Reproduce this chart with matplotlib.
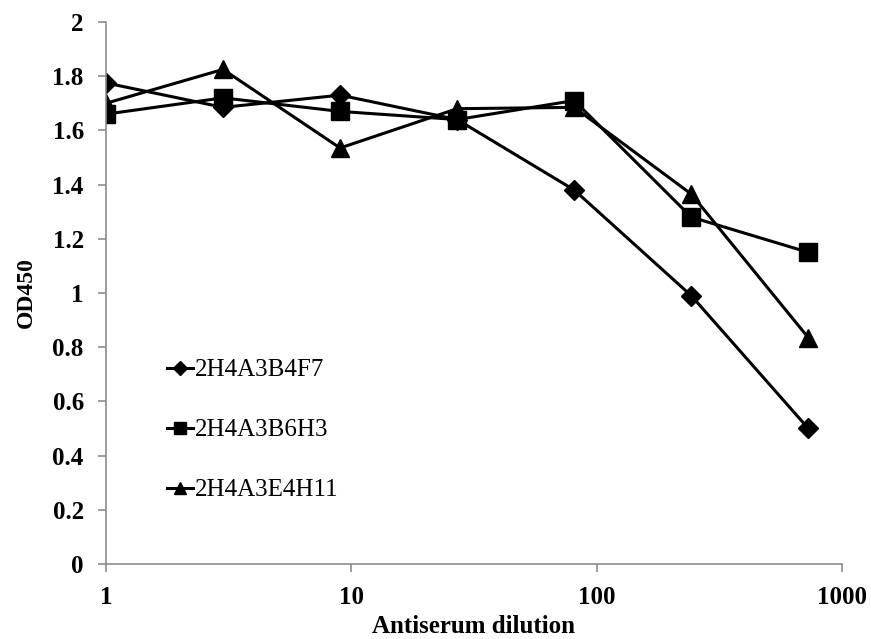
import numpy as np
import matplotlib.pyplot as plt
from matplotlib.ticker import FixedLocator, FuncFormatter, NullLocator

# -----------------------
# Data
# -----------------------
dilution = [1, 3, 9, 27, 81, 243, 729]
b4f7 = [1.775, 1.685, 1.73, 1.64, 1.38, 0.99, 0.50]
b6h3 = [1.66, 1.72, 1.67, 1.64, 1.71, 1.28, 1.15]
e4h11 = [1.70, 1.825, 1.535, 1.68, 1.685, 1.365, 0.835]
labels = ['2H4A3B4F7', '2H4A3B6H3', '2H4A3E4H11']
y_ticks = [0, 0.2, 0.4, 0.6, 0.8, 1, 1.2, 1.4, 1.6, 1.8, 2]
x_ticks = [1, 10, 100, 1000]

plt.rcParams['font.family'] = ['Liberation Serif', 'DejaVu Serif']

fig = plt.figure(figsize=(8.71, 6.39), dpi=100)
ax = fig.add_axes([0.1217, 0.1174, 0.845, 0.8482])

ax.plot(dilution, b4f7, color='black', lw=2.2, marker='D', ms=10, label=labels[0])
ax.plot(dilution, b6h3, color='black', lw=2.2, marker='s', ms=13, label=labels[1])
ax.plot(dilution, e4h11, color='black', lw=2.2, marker='^', ms=13, label=labels[2])

ax.set_xscale('log')
ax.set_xlim(1, 1000)
ax.set_ylim(0, 2)
ax.xaxis.set_major_locator(FixedLocator(x_ticks))
ax.xaxis.set_minor_locator(NullLocator())
ax.xaxis.set_major_formatter(FuncFormatter(lambda v, p: '%g' % v))
ax.yaxis.set_major_locator(FixedLocator(y_ticks))
ax.yaxis.set_major_formatter(FuncFormatter(lambda v, p: '%g' % v))

for side in ['top', 'right']:
    ax.spines[side].set_visible(False)
for side in ['left', 'bottom']:
    ax.spines[side].set_color('#8c8c8c')
    ax.spines[side].set_linewidth(1.2)
ax.tick_params(axis='both', direction='out', length=6, width=1.2, color='#8c8c8c',
               labelsize=18, pad=10)
for t in ax.get_xticklabels() + ax.get_yticklabels():
    t.set_fontweight('bold')

ax.set_xlabel('Antiserum dilution', fontsize=18, fontweight='bold', labelpad=4)
ax.set_ylabel('OD450', fontsize=17, fontweight='bold', labelpad=11)

# legend sits inside the plot, lower left
ax.legend(loc='upper left', bbox_to_anchor=(167 / 871, 1 - 359 / 639),
          bbox_transform=fig.transFigure, frameon=False, fontsize=18,
          handlelength=1.05, handletextpad=0.05, labelspacing=1.5,
          borderpad=0, borderaxespad=0, markerscale=0.7)

fig.savefig('out.png', dpi=100)
